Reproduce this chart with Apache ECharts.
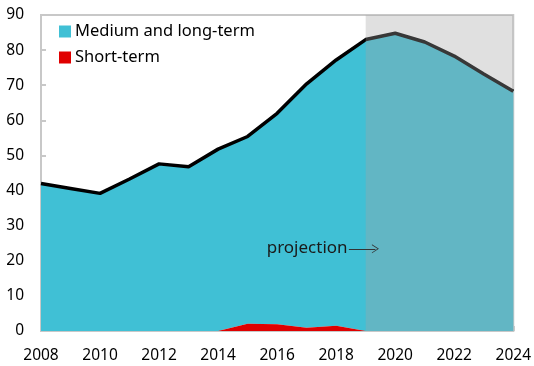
<!DOCTYPE html>
<html>
<head>
<meta charset="utf-8">
<script src="https://cdn.jsdelivr.net/npm/echarts@6/dist/echarts.min.js"></script>
<style>
  html, body { margin: 0; padding: 0; background: #fff; }
  #chart { width: 534px; height: 366px; }
</style>
</head>
<body>
<div id="chart"></div>
<script>
// Years on the horizontal axis
const years = ['2008', '2009', '2010', '2011', '2012', '2013', '2014', '2015', '2016', '2017', '2018', '2019', '2020', '2021', '2022', '2023', '2024'];
// Medium and long-term component
const mediumLong = [42.0, 40.6, 39.2, 43.3, 47.6, 46.8, 51.8, 53.3, 60.1, 69.5, 75.7, 83.0, 84.8, 82.3, 78.3, 73.2, 68.3];
// Short-term component
const shortTerm = [0, 0, 0, 0, 0, 0, 0, 2.1, 1.9, 0.9, 1.5, 0, 0, 0, 0, 0, 0];
// Projection period
const projectionStart = 2019;
const projectionEnd = 2024;

const total = mediumLong.map((v, i) => +(v + shortTerm[i]).toFixed(2));

const font = '"Noto Sans", "Open Sans", sans-serif';
const chart = echarts.init(document.getElementById('chart'));

chart.setOption({
  animation: false,
  textStyle: { fontFamily: font },
  grid: { left: 41, right: 20, top: 15, bottom: 35, show: true, borderColor: '#c8c8c8', borderWidth: 2 },
  legend: {
    orient: 'vertical', left: 54, top: 18, itemGap: 9,
    itemWidth: 12, itemHeight: 12, icon: 'rect',
    textStyle: { fontFamily: font, fontSize: 16.5, color: '#000', padding: [0, 0, 0, -1] },
    data: ['Medium and long-term', 'Short-term']
  },
  xAxis: [
    {
      type: 'category', data: years, boundaryGap: false,
      axisLine: { lineStyle: { color: '#c8c8c8', width: 2 } },
      axisTick: { inside: true, length: 5, interval: 1, lineStyle: { color: '#c8c8c8', width: 2 } },
      axisLabel: { color: '#000', fontSize: 15.5, fontFamily: font, margin: 17, interval: 1 },
      splitLine: { show: false }
    },
    {
      // continuous year scale for the projection annotation
      type: 'value', min: 2008, max: 2024, show: false, position: 'bottom'
    }
  ],
  yAxis: {
    type: 'value', min: 0, max: 90, interval: 10,
    axisLine: { show: true, lineStyle: { color: '#c8c8c8', width: 2 } },
    axisTick: { show: true, inside: true, length: 5, lineStyle: { color: '#c8c8c8', width: 2 } },
    axisLabel: { color: '#000', fontSize: 15.5, fontFamily: font, margin: 17 },
    splitLine: { show: false }
  },
  series: [
    {
      name: 'Short-term', type: 'line', stack: 'debt', data: shortTerm,
      symbol: 'none', lineStyle: { width: 0 }, z: 3,
      itemStyle: { color: '#e00000' },
      areaStyle: { color: '#e00000', opacity: 1 }
    },
    {
      name: 'Medium and long-term', type: 'line', stack: 'debt', data: mediumLong,
      symbol: 'none', lineStyle: { width: 0 }, z: 2,
      itemStyle: { color: '#40c0d5' },
      areaStyle: { color: '#40c0d5', opacity: 1 }
    },
    {
      name: 'Total', type: 'line', data: total, symbol: 'none', z: 4,
      lineStyle: { color: '#000', width: 3.5 }
    },
    {
      // carrier for the projection shading and its annotation, drawn above everything
      name: 'Projection', type: 'line', xAxisIndex: 1, z: 10, silent: true,
      data: years.map((y, i) => [+y, total[i]]),
      symbol: 'none', lineStyle: { opacity: 0 },
      markArea: {
        silent: true, z: 20,
        itemStyle: { color: 'rgba(164,164,164,0.34)' },
        data: [[{ coord: [projectionStart, 0] }, { coord: [projectionEnd, 90] }]]
      },
      markLine: {
        silent: true, z: 21, symbol: ['none', 'path://M0,10 L5,0 L10,10 L9,10 L5,2 L1,10 Z'], symbolSize: [9, 7],
        lineStyle: { color: '#333', width: 1, type: 'solid' },
        label: { show: false },
        data: [[{ coord: [2018.43, 23.4] }, { coord: [2019.33, 23.4] }]]
      },
      markPoint: {
        silent: true, z: 21, symbol: 'circle', symbolSize: 0,
        label: { show: true, formatter: 'projection', color: '#1a1a1a', fontSize: 17, fontFamily: font, position: 'left', distance: 1 },
        data: [{ coord: [2018.42, 23.7] }]
      }
    }
  ]
});
</script>
</body>
</html>
